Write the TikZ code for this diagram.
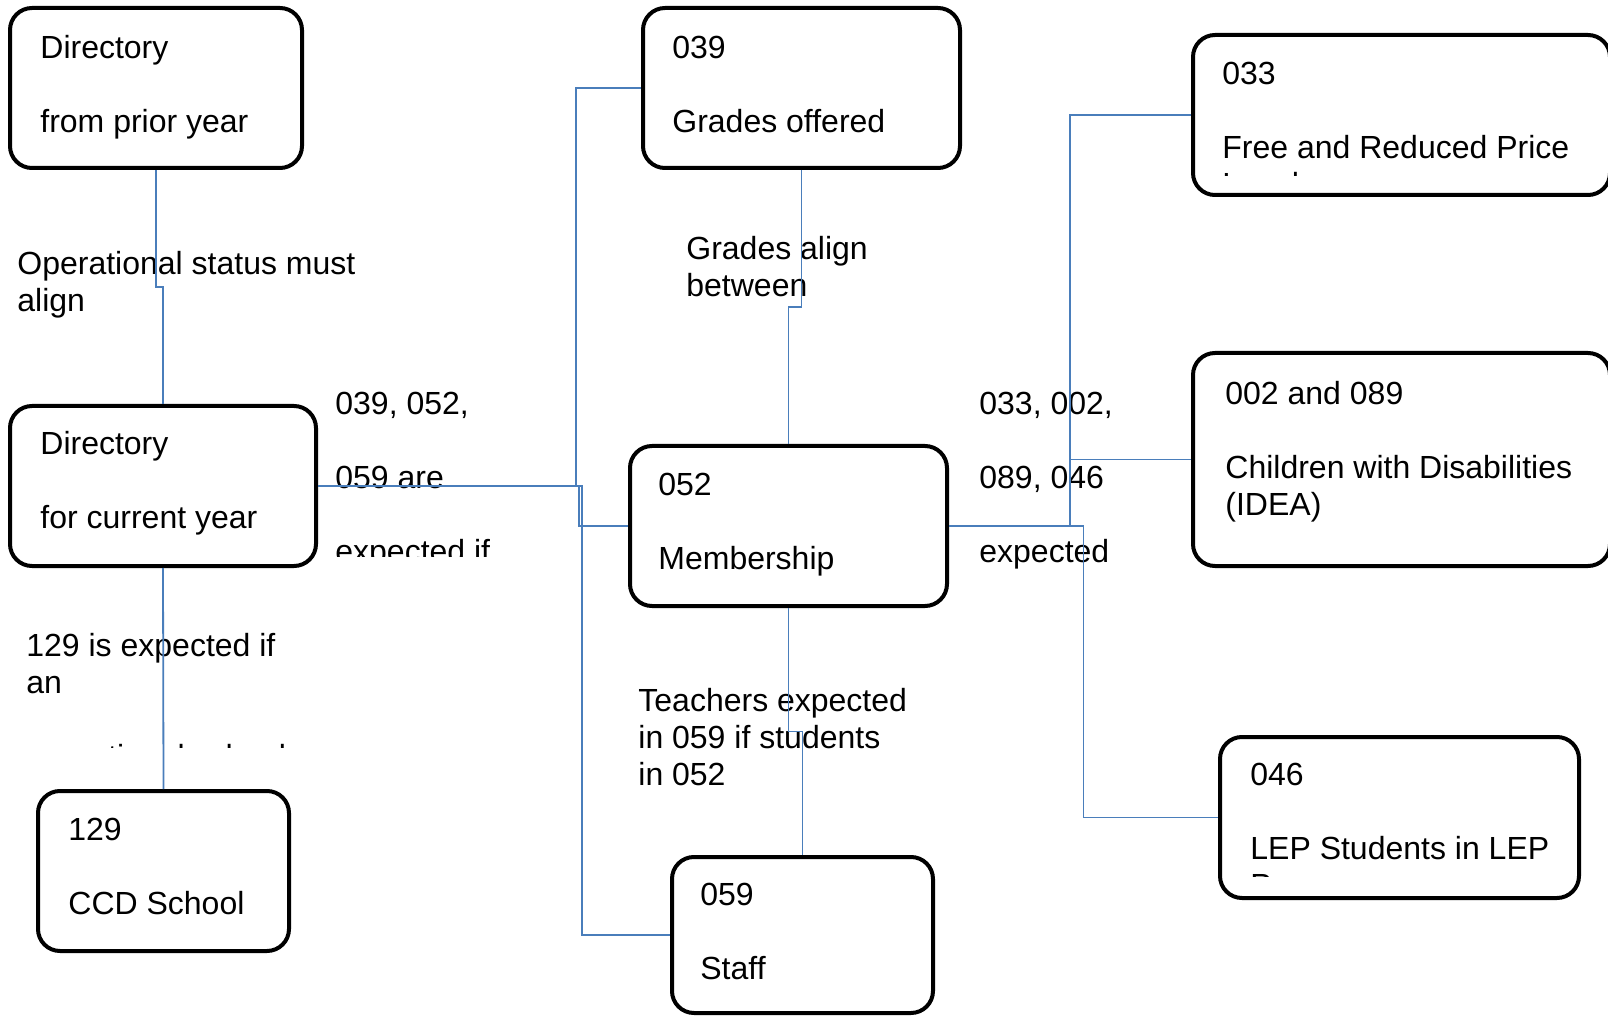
\documentclass[tikz,border=0pt]{standalone}
\usepackage{fontspec}
\setmainfont{Liberation Sans}
\usetikzlibrary{calc}
\definecolor{cblue}{RGB}{74,126,187}
\tikzstyle{box}=[draw, line width=2pt, rounded corners=11pt, fill=white, inner sep=0]
\tikzstyle{lbl}=[anchor=base west, align=left, inner sep=0, font=\fontsize{16pt}{18.5pt}\selectfont]
\tikzstyle{cn}=[draw=cblue, line width=0.9pt]
\tikzset{vjog/.style={to path={|- ($(\tikztostart)!0.5!(\tikztotarget)$) -| (\tikztotarget)}},
  hjog/.style={to path={-| ($(\tikztostart)!#1!(\tikztotarget)$) |- (\tikztotarget)}},
  hjog/.default=0.5}

\begin{document}
\begin{tikzpicture}[x=0.5pt, y=-0.5pt]
\useasboundingbox (0,0) rectangle (1608,1016);
\fill[white] (0,0) rectangle (1608,1016);
\clip (0,0) rectangle (1608,1016);
\draw (156,88) node[box, minimum width=146pt, minimum height=80pt](prior) {};
\draw (163,486) node[box, minimum width=153pt, minimum height=80pt](current) {};
\draw (163.5,871) node[box, minimum width=125.5pt, minimum height=80pt](ccd) {};
\draw (801.5,88) node[box, minimum width=158.5pt, minimum height=80pt](grades) {};
\draw (788.5,526) node[box, minimum width=158.5pt, minimum height=80pt](member) {};
\draw (802.5,935) node[box, minimum width=130.5pt, minimum height=78pt](staff) {};
\draw (1401.5,115) node[box, minimum width=208.5pt, minimum height=80pt](frl) {};
\draw (1401.5,459.5) node[box, minimum width=208.5pt, minimum height=106.5pt](idea) {};
\draw (1399.5,817.5) node[box, minimum width=179.5pt, minimum height=80.5pt](lep) {};
\draw ([shift={(32,127)}]prior.north west) node[lbl](priortxt) {Directory\\[18.5pt]from prior year};
\draw ([shift={(32,125)}]current.north west) node[lbl](currenttxt) {Directory\\[18.5pt]for current year};
\draw ([shift={(32,125)}]ccd.north west) node[lbl](ccdtxt) {129\\[18.5pt]CCD School};
\draw ([shift={(31,127)}]grades.north west) node[lbl](gradestxt) {039\\[18.5pt]Grades offered};
\draw ([shift={(30,125)}]member.north west) node[lbl](membertxt) {052\\[18.5pt]Membership};
\draw ([shift={(30,124)}]staff.north west) node[lbl](stafftxt) {059\\[18.5pt]Staff};
\draw ([shift={(34,165)}]idea.north west) node[lbl](ideatxt) {002 and 089\\[18.5pt]Children with Disabilities\\(IDEA)};
\begin{scope}
\clip (frl.north west) rectangle ([yshift=10.75pt]frl.south east);
\draw ([shift={(31,163)}]frl.north west) node[lbl](frltxt) {033\\[18.5pt]Free and Reduced Price\\Lunch};
\end{scope}
\begin{scope}
\clip (lep.north west) rectangle ([yshift=12pt]lep.south east);
\draw ([shift={(32,161)}]lep.north west) node[lbl](leptxt) {046\\[18.5pt]LEP Students in LEP\\Programs};
\end{scope}
\draw (17,312) node[lbl](statusnote) {Operational status must\\align};
\begin{scope}
\clip (10,610) rectangle (330,747);
\draw (26,767) node[lbl](schoolnote) {129 is expected if\\an\\[18.5pt]operational school};
\end{scope}
\begin{scope}
\clip (325,370) rectangle (560,556);
\draw (335,562) node[lbl](dirnote) {039, 052,\\[18.5pt]059 are\\[18.5pt]expected if};
\end{scope}
\draw (686,297) node[lbl](gradenote) {Grades align\\between};
\draw (979,562) node[lbl](membnote) {033, 002,\\[18.5pt]089, 046\\[18.5pt]expected};
\draw (638,785) node[lbl](staffnote) {Teachers expected\\in 059 if students\\in 052};
\draw[cn] (prior.south) to[vjog] (current.north);
\draw[cn] (current.south) -- (ccd.north);
\draw[cn] (current.east) to[hjog=0.798] (grades.west);
\draw[cn] (current.east) to[hjog=0.842] (member.west);
\draw[cn] (current.east) to[hjog=0.751] (staff.west);
\draw[cn] (grades.south) to[vjog] (member.north);
\draw[cn] (member.south) to[vjog] (staff.north);
\draw[cn] (member.east) to[hjog] (frl.west);
\draw[cn] (member.east) to[hjog] (idea.west);
\draw[cn] (member.east) to[hjog] (lep.west);
\end{tikzpicture}
\end{document}
